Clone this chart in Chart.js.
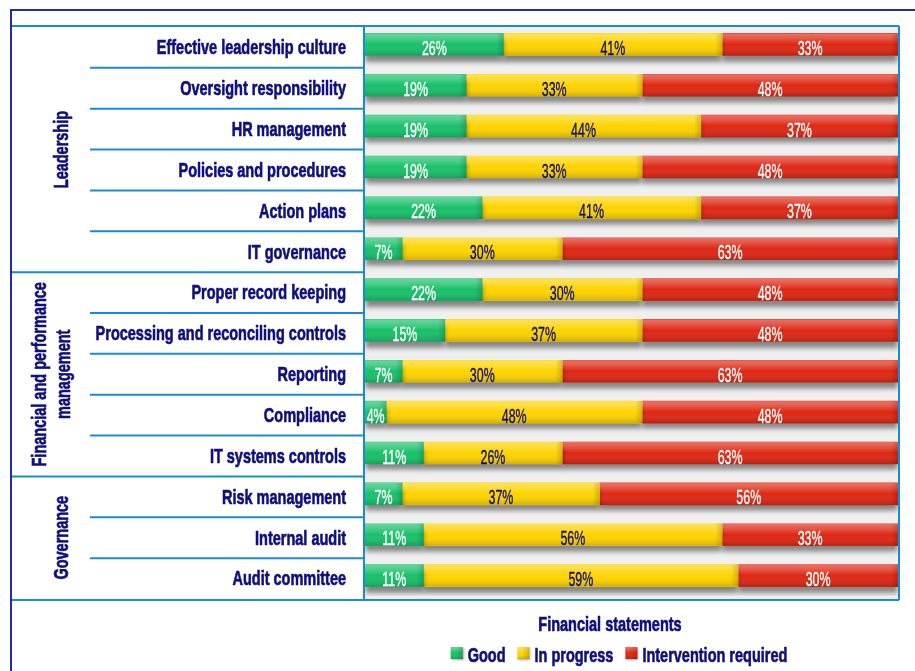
<!DOCTYPE html>
<html>
<head>
<meta charset="utf-8">
<script src="https://cdn.jsdelivr.net/npm/chart.js@4.4.1/dist/chart.umd.min.js"></script>
<style>
  html, body { margin: 0; padding: 0; background: #fff; }
  #wrap { width: 915px; height: 671px; position: relative; }
</style>
</head>
<body>
<div id="wrap"><canvas id="chart" width="915" height="671"></canvas></div>
<script>
const categories = [
  'Effective leadership culture',
  'Oversight responsibility',
  'HR management',
  'Policies and procedures',
  'Action plans',
  'IT governance',
  'Proper record keeping',
  'Processing and reconciling controls',
  'Reporting',
  'Compliance',
  'IT systems controls',
  'Risk management',
  'Internal audit',
  'Audit committee'
];
const groupNames = [['Leadership'], ['Financial and performance', 'management'], ['Governance']];
const groupSizes = [6, 5, 3];
const good = [26, 19, 19, 19, 22, 7, 22, 15, 7, 4, 11, 7, 11, 11];
const inProgress = [41, 33, 44, 33, 41, 30, 30, 37, 30, 48, 26, 37, 56, 59];
const intervention = [33, 48, 37, 48, 37, 63, 48, 48, 63, 48, 63, 56, 33, 30];
const seriesNames = ['Good', 'In progress', 'Intervention required'];
const legendTitle = 'Financial statements';

const NAVY = '#10107d';
const LINE = '#1b8ad6';
const COLORS = ['#19c06a', '#fdd300', '#df2814'];
const LABEL_COLORS = ['#ffffff', NAVY, '#ffffff'];
const LABEL_FONT = 'bold 21px "Liberation Sans", Arial, sans-serif';
const LABEL_SX = 0.69;
const VALUE_FONT = '20px "Liberation Sans", Arial, sans-serif';
const VALUE_SX = 0.62;
const BAR_SHIFT = -3;

// draw text squeezed horizontally to mimic the condensed face
function squeezed(ctx, text, x, y, font, sx, align, angle, heavy) {
  ctx.save();
  ctx.font = font;
  ctx.translate(x, y);
  if (angle) ctx.rotate(angle);
  ctx.scale(sx, 1);
  ctx.textAlign = align;
  ctx.textBaseline = 'middle';
  ctx.fillText(text, 0, 0);
  if (heavy) {
    ctx.strokeStyle = ctx.fillStyle;
    ctx.lineWidth = heavy;
    ctx.lineJoin = 'round';
    ctx.strokeText(text, 0, 0);
  }
  ctx.restore();
}

function shine(ctx, left, top, w, h) {
  const g = ctx.createLinearGradient(0, top, 0, top + h);
  g.addColorStop(0, 'rgba(255,255,255,0.34)');
  g.addColorStop(0.2, 'rgba(255,255,255,0.24)');
  g.addColorStop(0.5, 'rgba(255,255,255,0)');
  g.addColorStop(1, 'rgba(0,0,0,0.17)');
  ctx.fillStyle = g;
  ctx.fillRect(left, top, w, h);
  // darker bevel at the right end of the segment
  const e = Math.min(7, w);
  const g2 = ctx.createLinearGradient(left + w - e, 0, left + w, 0);
  g2.addColorStop(0, 'rgba(0,0,0,0)');
  g2.addColorStop(1, 'rgba(0,0,0,0.16)');
  ctx.fillStyle = g2;
  ctx.fillRect(left + w - e, top, e, h);
}

const decor = {
  id: 'decor',
  beforeDraw(chart) {
    const ctx = chart.ctx;
    const a = chart.chartArea;
    ctx.save();
    ctx.fillStyle = '#efefef';
    ctx.fillRect(a.left, a.top, a.width, a.height);
    ctx.restore();
  },
  beforeDatasetsDraw(chart) {
    const ctx = chart.ctx;
    ctx.save();
    ctx.translate(0, BAR_SHIFT);
    ctx.shadowColor = 'rgba(0,0,0,0.45)';
    ctx.shadowBlur = 5;
    ctx.shadowOffsetY = 6;
  },
  afterDatasetsDraw(chart) {
    const ctx = chart.ctx;
    ctx.restore();
    const a = chart.chartArea;
    const yScale = chart.scales.y;

    // gloss on each bar segment
    ctx.save();
    ctx.translate(0, BAR_SHIFT);
    chart.data.datasets.forEach((ds, di) => {
      chart.getDatasetMeta(di).data.forEach(el => {
        const p = el.getProps(['x', 'y', 'base', 'height'], true);
        const left = Math.min(p.x, p.base);
        const w = Math.abs(p.x - p.base);
        shine(ctx, left, p.y - p.height / 2, w, p.height);
      });
    });
    ctx.restore();

    // value labels
    ctx.save();
    chart.data.datasets.forEach((ds, di) => {
      ctx.fillStyle = LABEL_COLORS[di];
      chart.getDatasetMeta(di).data.forEach((el, i) => {
        const p = el.getProps(['x', 'y', 'base'], true);
        squeezed(ctx, ds.data[i] + '%', (p.x + p.base) / 2, p.y + 2, VALUE_FONT, VALUE_SX, 'center', 0, 0.4);
      });
    });
    ctx.restore();

    // frame, plot box and row separators
    ctx.save();
    ctx.strokeStyle = '#1c2f9c';
    ctx.lineWidth = 2;
    ctx.beginPath();
    ctx.moveTo(11, 700); ctx.lineTo(11, 10); ctx.lineTo(915, 10);
    ctx.stroke();

    ctx.strokeStyle = LINE;
    ctx.beginPath();
    ctx.moveTo(12, a.top - 1); ctx.lineTo(a.right + 1, a.top - 1);
    ctx.moveTo(12, a.bottom + 1); ctx.lineTo(a.right + 1, a.bottom + 1);
    ctx.moveTo(a.left - 1, a.top - 1); ctx.lineTo(a.left - 1, a.bottom + 1);
    ctx.moveTo(a.right + 1, a.top - 1); ctx.lineTo(a.right + 1, a.bottom + 1);
    const groupEnds = [];
    let acc = 0;
    groupSizes.forEach(n => { acc += n; groupEnds.push(acc); });
    for (let i = 1; i < categories.length; i++) {
      const yb = (yScale.getPixelForValue(i - 1) + yScale.getPixelForValue(i)) / 2;
      const x0 = groupEnds.includes(i) ? 12 : 90;
      ctx.moveTo(x0, yb); ctx.lineTo(a.left - 1, yb);
    }
    ctx.stroke();

    // category labels
    ctx.fillStyle = NAVY;
    categories.forEach((c, i) => {
      squeezed(ctx, c, a.left - 19, yScale.getPixelForValue(i) + 1, LABEL_FONT, LABEL_SX, 'right', 0, 0.7);
    });

    // group labels, rotated
    const rowH = yScale.height / categories.length;
    let start = 0;
    groupNames.forEach((lines, g) => {
      const y0 = yScale.getPixelForValue(start) - rowH / 2;
      const y1 = yScale.getPixelForValue(start + groupSizes[g] - 1) + rowH / 2;
      const yc = (y0 + y1) / 2;
      lines.forEach((t, k) => {
        const x = lines.length === 1 ? 62 : 40 + k * 24;
        squeezed(ctx, t, x, yc, LABEL_FONT, LABEL_SX, 'center', -Math.PI / 2, 0.7);
      });
      start += groupSizes[g];
    });

    // legend
    ctx.fillStyle = NAVY;
    squeezed(ctx, legendTitle, 610, 625, LABEL_FONT, LABEL_SX, 'center', 0, 0.7);
    ctx.font = LABEL_FONT;
    const widths = seriesNames.map(s => ctx.measureText(s).width * LABEL_SX);
    const box = 12, gapIn = 5, gapOut = 12;
    const total = widths.reduce((s, w) => s + w + box + gapIn, 0) + gapOut * (seriesNames.length - 1);
    let lx = 619 - total / 2;
    const ly = 656;
    seriesNames.forEach((s, i) => {
      ctx.save();
      ctx.shadowColor = 'rgba(0,0,0,0.35)';
      ctx.shadowBlur = 2;
      ctx.shadowOffsetX = 1;
      ctx.shadowOffsetY = 1;
      ctx.fillStyle = chart.data.datasets[i].backgroundColor;
      ctx.fillRect(lx, ly - 9, box, box);
      ctx.restore();
      shine(ctx, lx, ly - 9, box, box);
      ctx.fillStyle = NAVY;
      squeezed(ctx, s, lx + box + gapIn, ly, LABEL_FONT, LABEL_SX, 'left', 0, 0.7);
      lx += box + gapIn + widths[i] + gapOut;
    });
    ctx.restore();
  }
};

new Chart(document.getElementById('chart'), {
  type: 'bar',
  data: {
    labels: categories,
    datasets: [
      { label: seriesNames[0], data: good, backgroundColor: COLORS[0] },
      { label: seriesNames[1], data: inProgress, backgroundColor: COLORS[1] },
      { label: seriesNames[2], data: intervention, backgroundColor: COLORS[2] }
    ]
  },
  options: {
    indexAxis: 'y',
    responsive: false,
    devicePixelRatio: 1,
    animation: false,
    layout: { padding: { left: 12, top: 27, right: 17, bottom: 72 } },
    datasets: { bar: { barThickness: 22, borderWidth: 0 } },
    scales: {
      x: { stacked: true, min: 0, max: 100, display: false },
      y: {
        stacked: true,
        grid: { display: false, drawTicks: false },
        border: { display: false },
        ticks: { display: false },
        afterFit: s => { s.width = 353; }
      }
    },
    plugins: {
      legend: { display: false },
      tooltip: { enabled: false }
    }
  },
  plugins: [decor]
});
</script>
</body>
</html>
